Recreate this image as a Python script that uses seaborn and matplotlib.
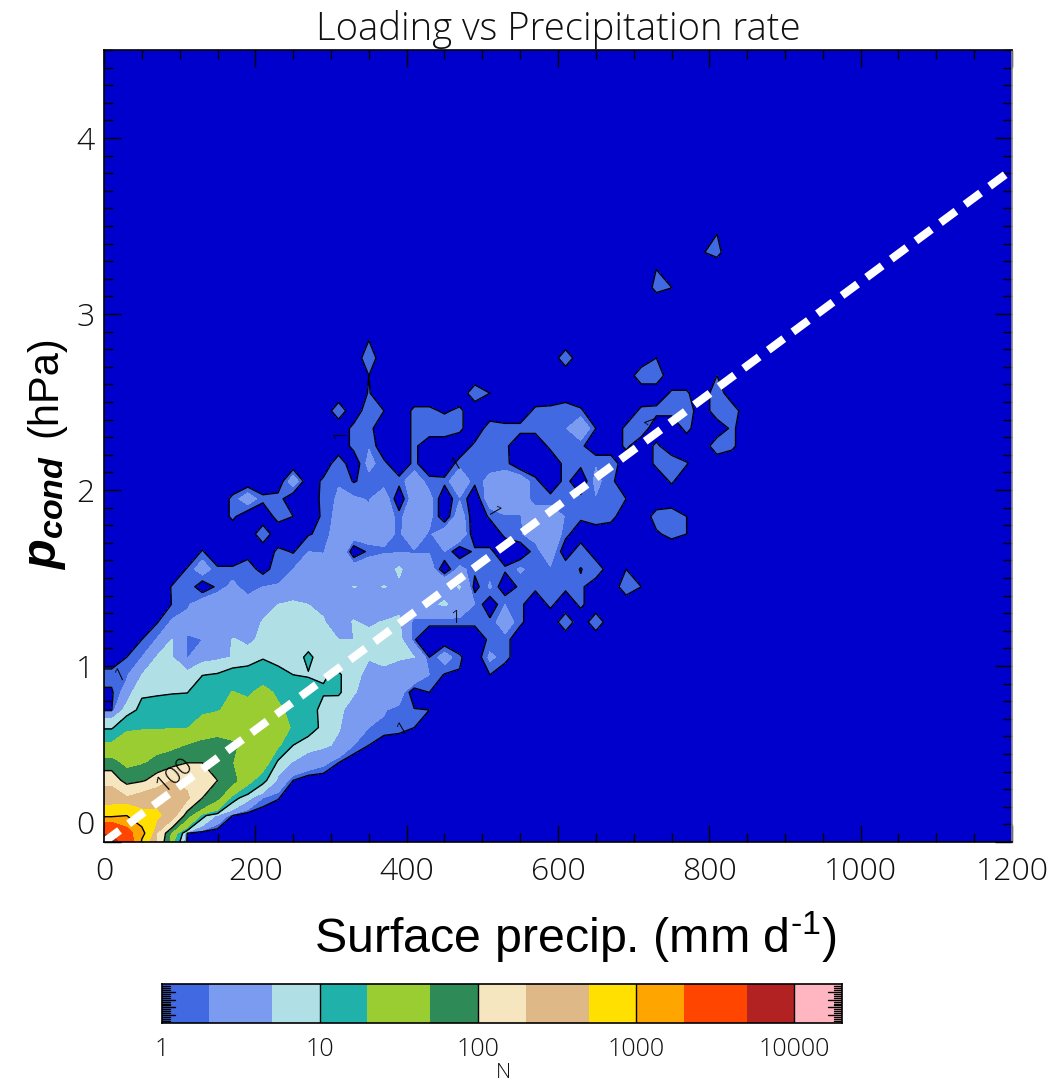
import numpy as np
import matplotlib
matplotlib.use("Agg")
import matplotlib.pyplot as plt
import matplotlib.ticker as mticker
import seaborn as sns
from matplotlib.colors import ListedColormap, BoundaryNorm

sns.set_theme(style="ticks")
plt.rcParams['font.family'] = ['Open Sans', 'DejaVu Sans']
plt.rcParams['mathtext.fontset'] = 'custom'
plt.rcParams['mathtext.rm'] = 'Liberation Sans'
plt.rcParams['mathtext.it'] = 'Liberation Sans:italic'
plt.rcParams['mathtext.bf'] = 'Liberation Sans:bold'
plt.rcParams['mathtext.bfit'] = 'Liberation Sans:italic:bold'

# counts per bin; rows are p_cond bins (0.1 hPa), columns are precip bins (20 mm/d)
N_bottom = [30000, 3500, 600, 150, 15, 0]
N_00 = [4000, 2500, 1200, 190, 30, 1]
N_01 = [800, 1000, 650, 600, 250, 60, 12, 4, 1]
N_02 = [300, 210, 250, 300, 300, 220, 100, 55, 13, 6, 2, 1.1]
N_03 = [150, 70, 90, 130, 200, 170, 160, 100, 60, 25, 12, 4, 1]
N_04 = [60, 40, 45, 60, 70, 100, 100, 75, 50, 35, 28, 8, 4.5, 3.5, 2.5, 1]
N_05 = [22, 30, 33, 35, 40, 50, 58, 65, 55, 38, 30, 22, 10, 6, 5.5, 4.5, 2, 1]
N_06 = [9, 17, 18, 18, 19, 19, 28, 30, 32, 33, 30, 28, 18, 14, 8, 5.2, 3.5, 2, 1.8, 1.5, 1]
N_07 = [0.9, 6.5, 12, 14, 15, 16, 17, 19, 24, 25, 24, 22, 17, 13, 8, 5.5, 4, 3, 2.1, 1.6, 1.1, 1]
N_08 = [0.8, 2.8, 9, 9, 9.5, 9.8, 15, 15, 20.5, 18, 24, 18, 14, 13, 10.5, 11, 5.2, 4, 3.5, 3, 0, 1]
N_09 = [1.5, 1.7, 5, 6, 5.5, 6, 9.8, 10.5, 13, 14, 14, 13, 10, 9.5, 9.5, 11, 5.5, 4.5, 4.5, 4.5, 4, 2, 0.9, 0.9, 1, 1]
N_10 = [0, 1, 2, 5.2, 5.2, 1.9, 3, 4, 5.2, 6, 9.5, 7, 5.5, 12, 5.5, 5.2, 5.2, 5.1, 5.5, 5.1, 5, 1, 2.8, 1.2, 0, 2.3, 1.5]
N_11 = [0, 0, 1, 2.1, 5.1, 1.8, 2, 2, 5.2, 4.5, 5.5, 6, 6, 5.5, 5.2, 5, 5, 6, 6, 6, 1.1, 0, 0, 0, 0, 1.3, 1.5]
N_12 = [0, 0, 0, 0.9, 2.2, 2.5, 3.5, 3.5, 3, 3.5, 5.2, 6, 6.5, 5.2, 5.2, 3.5, 5.2, 4.5, 5.2, 5.3, 1.3, 1.3, 1.3, 1.3, 1.3, 1.3, 3, 1.3, 0, 0, 2, 0, 2]
N_13 = [0, 0, 0, 0, 1.05, 1.8, 3, 3.5, 2.5, 3, 3.5, 5, 5.5, 5, 4.5, 4, 3.5, 4.5, 1.9, 4.5, 4.5, 4.5, 5.3, 4, 2, 0, 2, 1.3, 0, 1.3, 0, 1.3]
N_14 = [0, 0, 0, 0, 1.1, 2, 0, 1.3, 2.5, 1.2, 2, 2.1, 3, 4, 2, 3.5, 5.1, 4.5, 5.1, 4.5, 4, 4, 4, 5.2, 0.5, 2.2, 0, 1.3, 1.3, 1.7, 1.3, 1.3, 0, 0, 1.9, 1]
N_15 = [0, 0, 0, 0, 0, 1.1, 3, 1.2, 1.2, 1.5, 0.6, 1.5, 2, 3.5, 3, 3.5, 3, 3.5, 3.5, 5.5, 3, 3, 0, 2.5, 1.3, 1.5, 1.2, 2.2, 1.5, 1.8, 2, 0.9, 2, 0, 1]
N_16 = [0, 0, 0, 0, 0, 0, 1.1, 0, 0, 0.6, 0, 1.3, 0.9, 2, 1.9, 4, 0, 1.3, 1.8, 1.8, 1.9, 1.9, 2, 0, 1.3, 1.3, 0, 0, 1.5, 3, 0, 2]
N_17 = [0] * 10 + [2, 0, 0, 0.9, 1.3, 3, 3, 3, 2.5, 1.8, 3, 1.8, 3, 3.5, 0, 0, 1.3, 1.9, 2.5, 3.5, 1.4, 0, 0, 0, 0, 0, 0.8, 1.4, 1]
N_18 = [0] * 8 + [1.3, 0, 0, 1.5, 1, 0, 1.3, 2.5, 3, 2.3, 3, 1.5, 3.5, 2.5, 0, 3, 0, 1.2, 1.9, 1.9, 3, 3, 1.9, 1.3, 1.9, 1.5, 0, 0, 1.6, 1.9, 1]
N_19 = [0] * 8 + [1.3, 3, 1.3, 1.5, 0, 0, 1.4, 2.2, 2.2, 1.9, 3, 0, 3, 2.5, 0, 1.9, 0, 3, 3, 3, 1.3, 1.4, 1.9, 1.3, 1.9, 1.9, 1]
N_20 = [0] * 12 + [3, 0, 1.3, 1.9, 0.9, 1.4, 1.4, 1.4, 3, 1.4, 1.3, 3.5, 1.3, 2.5, 3, 3, 1.3, 0, 1.4, 0, 2.4, 1.3, 0, 0, 0, 1.2]
N_21 = [0] * 15 + [1.9, 0, 2.5, 1.3, 0, 1.3, 0, 0, 1.5, 1.8, 1.4, 1.4, 0, 0, 0, 1.4, 1.3, 1.9, 1.9, 0, 0, 1.3, 1.9, 1.1]
N_22 = [0] * 16 + [1.4, 1.9, 0, 0, 1.3, 0, 0, 0, 1.3, 1.4, 1.3, 0, 0, 1.3, 1.9, 1.3, 0, 0, 1.3, 0, 1.3, 0, 0, 0, 1.9, 1.3]
N_23 = [0] * 16 + [1.4, 1.4, 0, 0, 1.3, 1.9, 1.9, 1.3, 0, 1.7, 1.4, 1.4, 1.4, 1.4, 1.9, 3.5, 1, 0, 1.3, 1.9, 0, 0, 1.4, 0, 0, 1.3]
N_24 = [0] * 15 + [1.9, 0, 1.9, 1, 0, 1.3, 1.3, 0.8, 1.3, 0, 0, 0, 0, 1.3, 1.4, 1.9, 1.2, 0, 0, 0, 1.3, 1.4, 1.4, 1.9, 0, 1.9, 1.8]
N_25 = [0] * 17 + [1.1] + [0] * 6 + [1.9, 1] + [0] * 11 + [1.2, 1.2, 0, 1.9]
N_26 = [0] * 17 + [1] + [0] * 17 + [1.9, 1.9, 0, 0, 0, 1]
N_27 = [0] * 17 + [1.9] + [0] * 12 + [1.9] + [0] * 5 + [1]
N_28 = [0] * 17 + [1]
N_31 = [0] * 36 + [1.4, 1.02]
N_32 = [0] * 36 + [1.02]
N_33 = [0] * 39 + [0.9, 1.4]
N_34 = [0] * 40 + [1.02]

count_rows = [N_bottom, N_00, N_01, N_02, N_03, N_04, N_05, N_06, N_07, N_08, N_09,
              N_10, N_11, N_12, N_13, N_14, N_15, N_16, N_17, N_18, N_19, N_20,
              N_21, N_22, N_23, N_24, N_25, N_26, N_27, N_28, [], [], N_31, N_32, N_33, N_34]

levels = [1, 2, 5, 10, 20, 50, 100, 200, 500, 1000, 2000, 5000, 10000, 20000]
line_levels = [1, 10, 100, 1000, 10000]
band_colors = ['#4169E1', '#7B9BF0', '#B0E0E6', '#20B2AA', '#9ACD32', '#2E8B57',
               '#F5E6BF', '#DEB887', '#FFE000', '#FFA500', '#FF4500', '#B22222', '#FFB6C1']
cbar_ticks = [1, 10, 100, 1000, 10000]
fit_x = [0, 1200]
fit_y = [0, 3.82]
label_x = [21, 465, 394, 466, 513, 723, 312]
label_y = [0.95, 1.27, 0.64, 2.15, 1.875, 2.41, 2.32]
label_rot = [25, 0, 30, 30, -60, 110, 90]

# grid
n_x = 62
n_y = 47
x_nodes = -10 + 20 * np.arange(n_x)
y_nodes = -0.05 + 0.1 * np.arange(n_y)
Z = np.zeros((n_y, n_x))
for r, row in enumerate(count_rows):
    Z[r, 1:len(row) + 1] = row
Z[:, 0] = Z[:, 1]
Z = np.minimum(Z, 19999)

W, H = 1049, 1082
LIGHT = 300
fig = plt.figure(figsize=(W / 100, H / 100), dpi=100)
ax = fig.add_axes([104 / W, 1 - 842 / H, 908 / W, 792 / H])
ax.set_facecolor('#0000CD')
ax.contourf(x_nodes, y_nodes, Z, levels=levels, colors=band_colors)
ax.contour(x_nodes, y_nodes, Z, levels=line_levels, colors='black', linewidths=1.0)

sns.lineplot(x=fit_x, y=fit_y, ax=ax, color='white', linewidth=5.8,
             dashes=(2.4, 1.4), dash_capstyle='butt', legend=False, errorbar=None)

ax.text(94, 0.38, '100', rotation=42, ha='center', va='center', fontsize=17,
        fontweight=LIGHT, color='black')
for lx, ly, lr in zip(label_x, label_y, label_rot):
    ax.text(lx, ly, '1', rotation=lr, ha='center', va='center', fontsize=13,
            fontweight=LIGHT, color='black')

ax.set_xlim(0, 1200)
ax.set_ylim(0, 4.5)
ax.set_xticks(np.arange(0, 1201, 200))
ax.set_xticks(np.arange(0, 1201, 50), minor=True)
ax.set_yticks(np.arange(0, 5, 1))
ax.set_yticks(np.arange(0, 4.51, 0.1), minor=True)
ax.tick_params(axis='both', which='major', direction='in', length=12, width=1,
               top=True, right=True, color='black', labelsize=23, labelcolor='#111111')
ax.tick_params(axis='both', which='minor', direction='in', length=6.5, width=1,
               top=True, right=True, color='black')
ax.tick_params(axis='x', which='major', pad=10)
ax.tick_params(axis='y', which='major', pad=7)
for lab in ax.get_xticklabels() + ax.get_yticklabels():
    lab.set_fontweight(LIGHT)
ax.get_yticklabels()[0].set_va('bottom')
for s in ax.spines.values():
    s.set_linewidth(1.2)
    s.set_color('black')
ax.spines['right'].set_color('#888888')

ax.set_title('Loading vs Precipitation rate', fontsize=27.5, fontweight=LIGHT,
             color='#111111', pad=7, x=0.50)
fig.text(575 / W, 1 - 937 / H, r'Surface precip. (mm d$^{\text{-1}}$)', ha='center', va='center',
         fontsize=34.8, family='Liberation Sans', color='black')
fig.text(45 / W, 1 - 570 / H, r'$\mathbfit{p}_{\mathbfit{cond}}$', rotation=90,
         ha='center', va='bottom', fontsize=35, family='Liberation Sans', color='black')
fig.text(45 / W, 1 - 335 / H, '(hPa)', rotation=90,
         ha='center', va='top', fontsize=30, family='Liberation Sans', color='black')

# colour bar
cax = fig.add_axes([161.5 / W, 1 - 1023 / H, 680.5 / W, 39 / H])
cmap = ListedColormap(band_colors)
norm = BoundaryNorm(levels, cmap.N)
cax.pcolormesh(levels, [0, 1], np.array([levels[:-1]], dtype=float), cmap=cmap, norm=norm, zorder=1)
cax.set_xscale('log')
cax.set_xlim(1, 20000)
cax.set_ylim(0, 1)
cax.set_yticks([])
cbar_edge = cax.get_yaxis_transform()
for yv in np.arange(0.05, 1, 0.05):
    frac = 0.02 if round(yv * 20) % 4 == 0 else 0.012
    cax.plot([0, frac], [yv, yv], transform=cbar_edge, color='black', lw=1, zorder=3, clip_on=True)
    cax.plot([1 - frac, 1], [yv, yv], transform=cbar_edge, color='black', lw=1, zorder=3, clip_on=True)
cax.set_xlim(1, 20000)
cax.set_ylim(0, 1)
cax.set_xticks(cbar_ticks)
cax.set_xticklabels([str(t) for t in cbar_ticks], fontsize=18, fontweight=LIGHT, color='#111111')
cax.xaxis.set_minor_locator(mticker.NullLocator())
cax.tick_params(axis='x', which='major', length=0, pad=10)
for t in cbar_ticks[1:]:
    cax.axvline(t, color='black', lw=1)
for s in cax.spines.values():
    s.set_linewidth(1.2)
    s.set_color('black')
fig.text(503 / W, 1 - 1073 / H, 'N', ha='center', va='center', fontsize=15,
         fontweight=LIGHT, color='#111111')

fig.savefig('out.png', dpi=100, facecolor='white')
